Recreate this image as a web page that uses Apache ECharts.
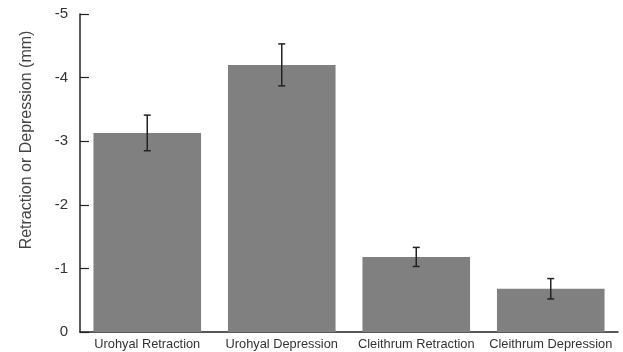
<!DOCTYPE html>
<html>
<head>
<meta charset="utf-8">
<script src="https://cdn.jsdelivr.net/npm/echarts@6/dist/echarts.min.js"></script>
<style>html,body{margin:0;padding:0;background:#fff}#c{width:623px;height:352px}</style>
</head>
<body>
<div id="c"></div>
<script>
var categories = ['Urohyal Retraction', 'Urohyal Depression', 'Cleithrum Retraction', 'Cleithrum Depression'];
var means = [-3.13, -4.20, -1.18, -0.68];
var errors = [0.28, 0.33, 0.15, 0.16];
var yTicks = [0, -1, -2, -3, -4, -5];

var errData = means.map(function (m, i) { return [i, m - errors[i], m + errors[i]]; });

var chart = echarts.init(document.getElementById('c'));
chart.setOption({
  animation: false,
  grid: { left: 80, right: 5, top: 14, bottom: 20 },
  xAxis: {
    type: 'category',
    data: categories,
    axisLine: { lineStyle: { color: '#222', width: 1.5 } },
    axisTick: { inside: true, length: 7, lineStyle: { color: '#222', width: 1.2 } },
    axisLabel: { interval: 0, color: '#333', fontSize: 12.8, fontFamily: 'Liberation Sans, Arial', margin: 6 }
  },
  yAxis: {
    type: 'value',
    min: -5, max: 0, interval: 1,
    inverse: true,
    splitLine: { show: false },
    axisLine: { show: true, lineStyle: { color: '#222', width: 1.5 } },
    axisTick: { show: true, inside: true, length: 9, lineStyle: { color: '#222', width: 1.2 } },
    axisLabel: { color: '#333', fontSize: 15, fontFamily: 'Liberation Sans, Arial', margin: 12 }
  },
  graphic: [{
    type: 'text',
    x: 27, y: 140,
    rotation: Math.PI / 2,
    style: {
      text: 'Retraction or Depression (mm)',
      fill: '#444',
      font: '16px "Liberation Sans", Arial',
      textAlign: 'center',
      textVerticalAlign: 'middle'
    }
  }],
  series: [{
    type: 'bar',
    data: means,
    barCategoryGap: '20%',
    itemStyle: { color: '#808080' }
  }, {
    type: 'custom',
    data: errData,
    z: 10,
    renderItem: function (params, api) {
      var x = api.value(0);
      var lo = api.coord([x, api.value(1)]);
      var hi = api.coord([x, api.value(2)]);
      var w = 3.5;
      var st = { stroke: '#222', lineWidth: 1.5 };
      return {
        type: 'group',
        children: [
          { type: 'line', shape: { x1: lo[0], y1: lo[1], x2: hi[0], y2: hi[1] }, style: st },
          { type: 'line', shape: { x1: lo[0] - w, y1: lo[1], x2: lo[0] + w, y2: lo[1] }, style: st },
          { type: 'line', shape: { x1: hi[0] - w, y1: hi[1], x2: hi[0] + w, y2: hi[1] }, style: st }
        ]
      };
    }
  }]
});
</script>
</body>
</html>
